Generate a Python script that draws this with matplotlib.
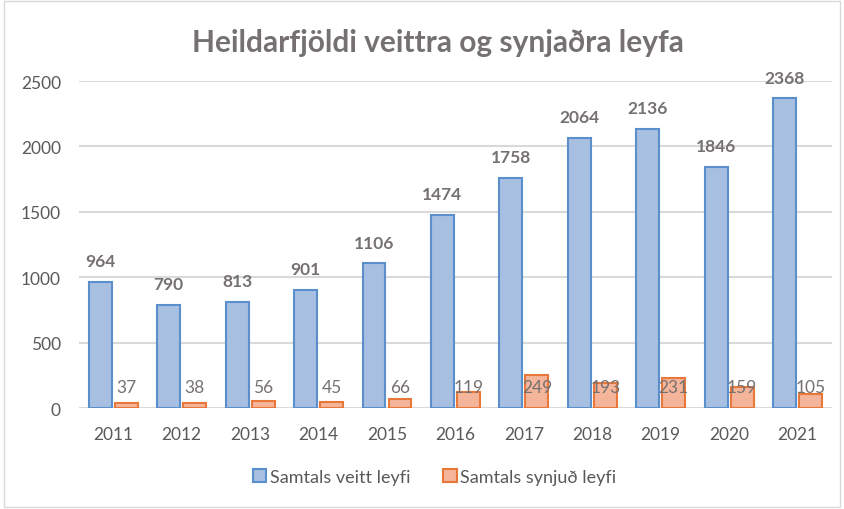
import numpy as np
import matplotlib.pyplot as plt
from matplotlib.patches import Rectangle

plt.rcParams['font.family'] = ['Lato', 'DejaVu Sans']

years = ['2011', '2012', '2013', '2014', '2015', '2016', '2017', '2018', '2019', '2020', '2021']
veitt = [964, 790, 813, 901, 1106, 1474, 1758, 2064, 2136, 1846, 2368]
synjud = [37, 38, 56, 45, 66, 119, 249, 193, 231, 159, 105]

grey = '#767171'
fig = plt.figure(figsize=(8.44, 5.10), dpi=100)
ax = fig.add_axes([0.0936, 0.198, 0.892, 0.641])

x = np.arange(len(years))
w = 0.335
off = 0.19
ax.bar(x - off, veitt, w, color='#A7BFE1', edgecolor='#5B8FCB', linewidth=1.5,
       label='Samtals veitt leyfi', zorder=3)
ax.bar(x + off, synjud, w, color='#F4B59A', edgecolor='#E8773A', linewidth=1.5,
       label='Samtals synjuð leyfi', zorder=3)

for xi, v in zip(x - off, veitt):
    ax.annotate(str(v), (xi, v), xytext=(0, 15), textcoords='offset points',
                ha='center', va='center', fontsize=12.5, fontweight='bold', color=grey, zorder=5)
for xi, v in zip(x + off, synjud):
    ax.text(xi, 160, str(v), ha='center', va='center', fontsize=12.5, color=grey, zorder=5)

ax.set_xlim(-0.5, len(years) - 0.5)
ax.set_ylim(0, 2500)
ax.set_yticks(range(0, 2501, 500))
ax.set_xticks(x)
ax.set_xticklabels(years)
ax.yaxis.grid(True, color='#D9D9D9', linewidth=1.5, zorder=0)
ax.set_axisbelow(True)
for s in ax.spines.values():
    s.set_visible(False)
ax.tick_params(length=0, labelsize=12.5, labelcolor='#595959')
ax.tick_params(axis='y', pad=13)
ax.tick_params(axis='x', pad=13)

fig.text(0.519, 0.916, 'Heildarfjöldi veittra og synjaðra leyfa', ha='center', va='center',
         fontsize=21.5, fontweight='bold', color=grey)

leg = fig.legend(loc='center', bbox_to_anchor=(0.515, 0.063), ncol=2, frameon=False,
                 fontsize=13, handlelength=0.75, handleheight=0.75, handletextpad=0.2,
                 columnspacing=1.8)
for t in leg.get_texts():
    t.set_color('#595959')

fig.patches.append(Rectangle((0.005, 0.004), 0.99, 0.992, transform=fig.transFigure,
                             fill=False, edgecolor='#D9D9D9', linewidth=1))

fig.savefig('out.png', dpi=100)
